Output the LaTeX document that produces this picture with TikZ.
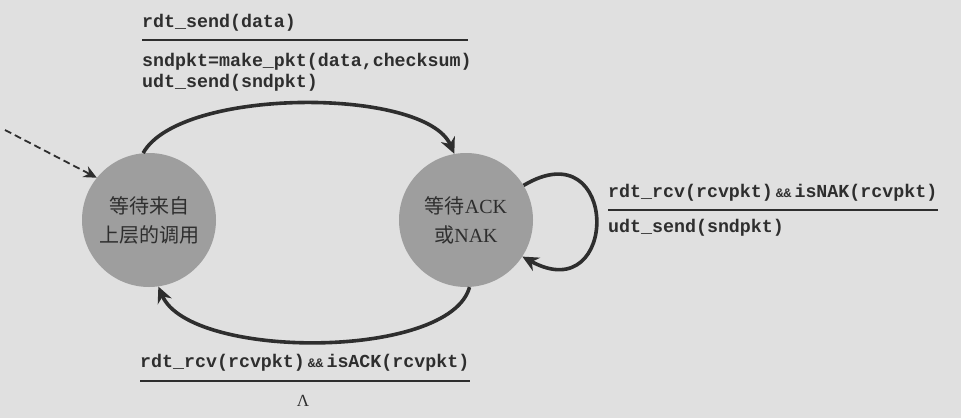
\documentclass[tikz,border=0pt]{standalone}
\usepackage{fontspec}
\setmainfont{Liberation Serif}
\setmonofont{Liberation Mono}
\newfontfamily\cjk{Noto Sans CJK SC}
\usetikzlibrary{arrows.meta, positioning}
\definecolor{paper}{HTML}{E0E0E0}
\definecolor{ink}{HTML}{2E2E2E}
\definecolor{stategray}{HTML}{9E9E9E}
\newcommand{\amps}{{\fontsize{13}{13}\selectfont\hspace{3pt}\&\&\hspace{3pt}}}

\begin{document}
\begin{tikzpicture}[x=1pt, y=-1pt, node distance=317pt]

    \tikzstyle{state} = [circle, minimum size=134pt, inner sep=0pt, fill=stategray, text=ink, align=center, font=\fontsize{20}{29}\selectfont]
    \tikzstyle{code} = [inner sep=0pt, anchor=west, text=ink, align=left, font=\fontsize{18.3}{21}\selectfont\ttfamily\bfseries]
    \tikzstyle{rule} = [line width=1.5pt, draw=ink]
    \tikzstyle{arrow} = [line width=3.6pt, draw=ink, -{Stealth[length=16pt, width=15pt]}]
    \tikzstyle{init} = [line width=1.8pt, draw=ink, dash pattern=on 7pt off 4pt, -{Stealth[length=13pt, width=12pt]}]

    % page
    \fill[paper] (0,0) rectangle (961,418);

    \node[state] (call) at (149,220) {{\cjk 等待来自}\\{\cjk 上层的调用}};
    \node[state, right of=call] (ack) {{\cjk 等待}ACK\\{\cjk 或}NAK};
    \coordinate (start) at (5,130);

    % top transition
    \node[code] (sendev)  at (142,23)   {rdt\_send(data)};
    \node[code] (sendact) at (142,72.5) {sndpkt=make\_pkt(data,checksum)\\udt\_send(sndpkt)};
    \draw[rule] (142,40) -- (468,40);

    % self loop
    \node[code] (nakev)  at (608,193) {rdt\_rcv(rcvpkt)\amps isNAK(rcvpkt)};
    \node[code] (nakact) at (608,228) {udt\_send(sndpkt)};
    \draw[rule] (608,210) -- (938,210);

    % bottom transition
    \node[code] (ackev) at (140,363) {rdt\_rcv(rcvpkt)\amps isACK(rcvpkt)};
    \node[text=ink, inner sep=0pt, font=\fontsize{17}{17}\selectfont] (ackact) at (303,401) {Λ};
    \draw[rule] (140,381) -- (470,381);

    \draw[init]  (start) -- (call.141);
    \draw[arrow] (call.95) .. controls (180,87) and (425,87) .. (ack.100);
    \draw[arrow] (ack.31) .. controls (620,128) and (620,310) .. (ack.-33);
    \draw[arrow] (ack.273) .. controls (450,360) and (190,360) .. (call.278);

\end{tikzpicture}
\end{document}
